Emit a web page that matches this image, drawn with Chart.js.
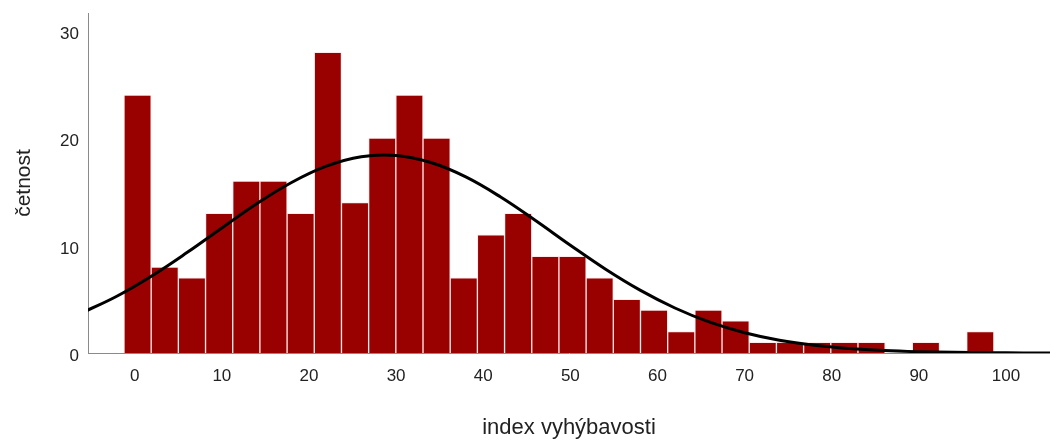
<!DOCTYPE html>
<html>
<head>
<meta charset="utf-8">
<script src="https://cdn.jsdelivr.net/npm/chart.js@4.4.1/dist/chart.umd.min.js"></script>
<style>
  html, body { margin: 0; padding: 0; background: #ffffff; }
  canvas { display: block; }
</style>
</head>
<body>
<canvas id="c" width="1050" height="441"></canvas>
<script>
// Histogram bins (centres) and counts
const binCenters = [0.33, 3.45, 6.57, 9.69, 12.81, 15.93, 19.05, 22.17, 25.29, 28.41,
  31.53, 34.65, 37.77, 40.89, 44.01, 47.13, 50.25, 53.37, 56.49, 59.61,
  62.73, 65.85, 68.97, 72.09, 75.21, 78.33, 81.45, 84.57, 87.69, 90.81, 93.93, 97.05];
const counts = [24, 8, 7, 13, 16, 16, 13, 28, 14, 20,
  24, 20, 7, 11, 13, 9, 9, 7, 5, 4,
  2, 4, 3, 1, 1, 1, 1, 1, 0, 1, 0, 2];

// Fitted normal curve
const curveX = [-6, -2, 2, 6, 10, 14, 18, 22, 26, 30, 34, 38, 42, 46, 50, 54, 58, 62, 66, 70, 74, 78, 82, 86, 90, 94, 98, 102, 106];
const curveY = [3.76, 5.31, 7.20, 9.35, 11.64, 13.89, 15.87, 17.39, 18.27, 18.38, 17.73, 16.39, 14.52, 12.33, 10.03, 7.82, 5.85, 4.19, 2.87, 1.89, 1.19, 0.72, 0.42, 0.23, 0.12, 0.06, 0.03, 0.01, 0];

// Axis ticks
const xTicks = [0, 10, 20, 30, 40, 50, 60, 70, 80, 90, 100];
const yTicks = [0, 10, 20, 30];

const xTitle = 'index vyhýbavosti';
const yTitle = 'četnost';

const barData = binCenters.map((c, i) => ({ x: c, y: counts[i] }));
const lineData = curveX.map((x, i) => ({ x: x, y: curveY[i] }));

const tickFont = { family: "'Liberation Sans', Arial, sans-serif", size: 17 };

new Chart(document.getElementById('c'), {
  data: {
    datasets: [
      {
        type: 'line',
        data: lineData,
        borderColor: '#000000',
        borderWidth: 3,
        pointRadius: 0,
        tension: 0.4,
        fill: false,
        order: 0
      },
      {
        type: 'bar',
        data: barData,
        backgroundColor: '#990000',
        borderColor: 'rgba(255,225,225,0.75)',
        borderWidth: 1,
        barPercentage: 1,
        categoryPercentage: 1,
        order: 1
      }
    ]
  },
  options: {
    responsive: false,
    devicePixelRatio: 1,
    animation: false,
    layout: { padding: { top: 13, left: 0, right: 0, bottom: 0 } },
    plugins: { legend: { display: false }, tooltip: { enabled: false } },
    scales: {
      x: {
        type: 'linear',
        min: -5.36,
        max: 105.05,
        offset: false,
        grid: { display: false, drawTicks: false },
        border: { display: true, color: '#8a8a8a', width: 1 },
        afterBuildTicks: (s) => { s.ticks = xTicks.map(v => ({ value: v })); },
        afterFit: (s) => { s.height = 88; s.paddingLeft = 0; s.paddingRight = 0; },
        ticks: {
          font: tickFont,
          color: '#222222',
          padding: 13,
          maxRotation: 0,
          autoSkip: false,
          callback: (v) => String(v)
        },
        title: {
          display: true,
          text: xTitle,
          color: '#222222',
          font: { family: "'Liberation Sans', Arial, sans-serif", size: 22, lineHeight: 1.2 },
          padding: { top: 0, bottom: 0 }
        }
      },
      y: {
        type: 'linear',
        min: 0,
        max: 31.65,
        grid: { display: false, drawTicks: false },
        border: { display: true, color: '#8a8a8a', width: 1 },
        afterBuildTicks: (s) => { s.ticks = yTicks.map(v => ({ value: v })); },
        afterFit: (s) => { s.width = 88; s.paddingTop = 0; s.paddingBottom = 0; },
        ticks: {
          font: tickFont,
          color: '#222222',
          padding: 9,
          labelOffset: 3.5,
          callback: (v) => String(v)
        },
        title: {
          display: true,
          text: yTitle,
          color: '#222222',
          font: { family: "'Liberation Sans', Arial, sans-serif", size: 21, lineHeight: 1.2 },
          padding: { top: 11.4, bottom: 0 }
        }
      }
    }
  }
});
</script>
</body>
</html>
